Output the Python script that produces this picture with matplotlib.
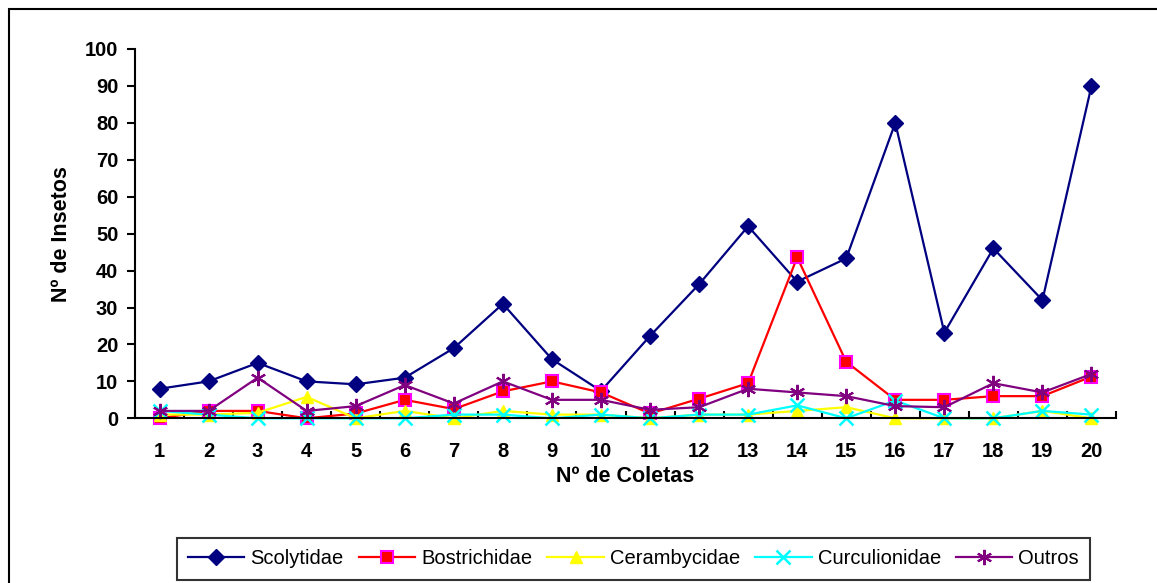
import numpy as np
import matplotlib.pyplot as plt
from matplotlib.patches import Rectangle

plt.rcParams['font.family'] = ['Liberation Sans', 'DejaVu Sans']

coletas = np.arange(1, 21)
scolytidae = [8, 10, 15, 10, 9.2, 11, 19, 31, 16, 7.4, 22.3, 36.3, 52, 37, 43.3, 80, 23.2, 46, 32, 90]
bostrichidae = [0, 2, 2, 0, 1.3, 5, 2.5, 7.3, 10, 7, 1.3, 5.3, 9.5, 43.6, 15.3, 5, 5, 6, 6, 11.3]
cerambycidae = [1, 1, 1.5, 5.8, 0, 2, 0, 2, 1, 1, 0, 1, 1, 2, 3, 0, 0, 0, 2, 0]
curculionidae = [2, 1, 0, 0, 0, 0, 1, 1, 0, 1, 0, 1, 1, 3.5, 0, 4.8, 0, 0, 2, 1]
outros = [2, 2, 11, 2, 3.3, 9, 4, 10, 5, 5, 2.3, 3, 8, 7, 6, 3.3, 3, 9.5, 7, 12]

fig = plt.figure(figsize=(11.57, 5.83), dpi=100)
ax = fig.add_axes([135 / 1157, 1 - 418.3 / 583, (1116 - 135) / 1157, (418.3 - 49) / 583])

# outer chart border
fig.patches.append(Rectangle((9 / 1157, -0.05), 1.2, 1 - 9 / 583 + 0.05, transform=fig.transFigure,
                             fill=False, edgecolor='black', linewidth=1.5))

lw = 1.6
ax.plot(coletas, scolytidae, '-', color='#000080', marker='D', markersize=8,
        linewidth=lw, label='Scolytidae', clip_on=False)
ax.plot(coletas, bostrichidae, '-', color='#FF0000', marker='s', markersize=8,
        markerfacecolor='#FF0000', markeredgecolor='#FF00FF', markeredgewidth=1.5,
        linewidth=lw, label='Bostrichidae', clip_on=False)
ax.plot(coletas, cerambycidae, '-', color='#FFFF00', marker='^', markersize=9,
        linewidth=lw, label='Cerambycidae', clip_on=False)
ax.plot(coletas, curculionidae, '-', color='#00FFFF', marker='x', markersize=10,
        markeredgewidth=1.8, linewidth=lw, label='Curculionidae', clip_on=False)
ax.plot(coletas, outros, '-', color='#800080', marker=(6, 2, 0), markersize=11,
        markeredgewidth=1.5, linewidth=lw, label='Outros', clip_on=False)

ax.set_xlim(0.5, 20.5)
ax.set_ylim(0, 100)
ax.set_yticks(np.arange(0, 101, 10))
ax.set_xticks(coletas)
ax.set_xticks(np.arange(0.5, 21, 1), minor=True)
ax.tick_params(axis='x', which='major', length=0, pad=17, labelsize=14.5)
ax.tick_params(axis='x', which='minor', direction='in', length=5, width=1.5)
ax.tick_params(axis='y', which='major', direction='out', length=6, width=1.5, pad=6, labelsize=14.5)
for lbl in ax.get_xticklabels() + ax.get_yticklabels():
    lbl.set_fontweight('bold')

for s in ['top', 'right']:
    ax.spines[s].set_visible(False)
ax.spines['left'].set_linewidth(1.5)
ax.spines['bottom'].set_linewidth(1.5)

ax.set_xlabel('Nº de Coletas', fontsize=15.5, fontweight='bold', labelpad=4)
ax.set_ylabel('Nº de Insetos', fontsize=15.5, fontweight='bold', labelpad=9)

leg = fig.legend(loc='center', bbox_to_anchor=(633.5 / 1157, 1 - 559 / 583), ncol=5,
                 fontsize=14.5, frameon=True, fancybox=False, edgecolor='black',
                 handlelength=2.8, columnspacing=0.75, handletextpad=0.3, borderpad=0.55)
leg.get_frame().set_linewidth(1.5)

fig.savefig('out.png', dpi=100)
